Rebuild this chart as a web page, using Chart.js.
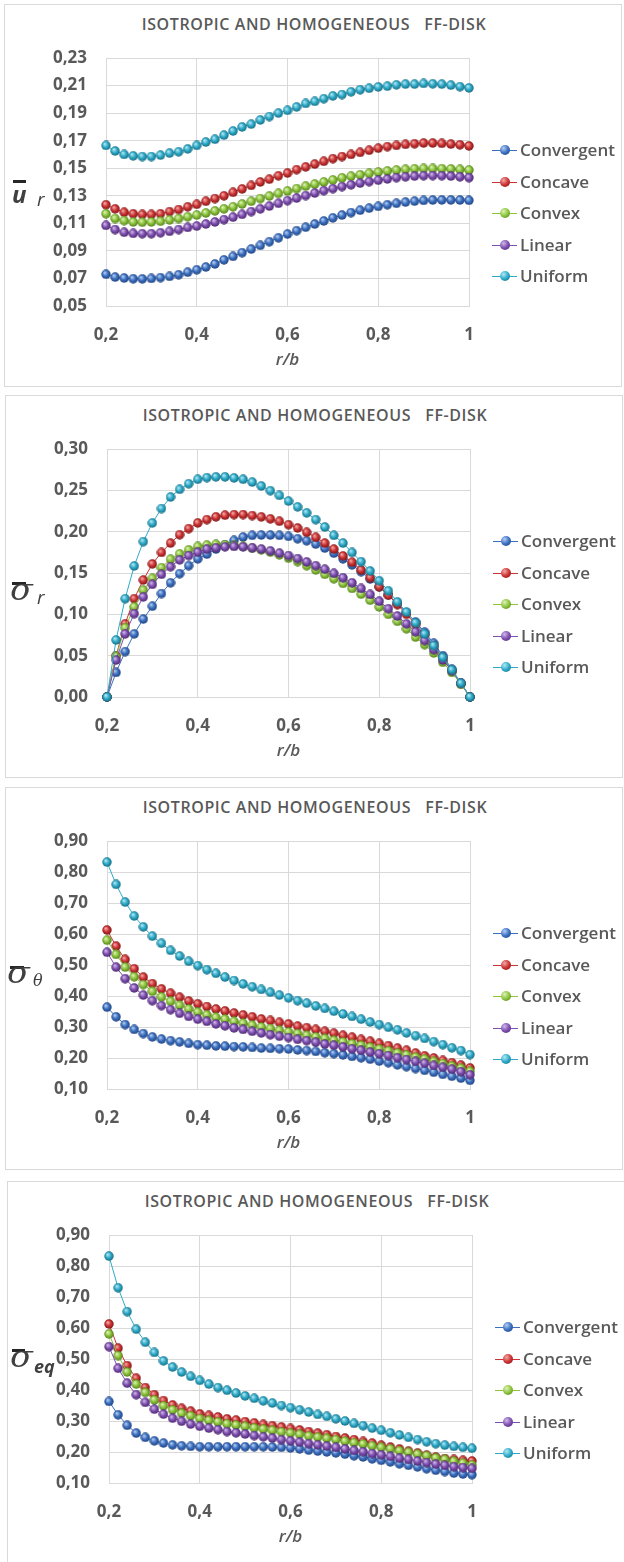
<!DOCTYPE html>
<html>
<head>
<meta charset="utf-8">
<title>Isotropic and homogeneous FF-disk</title>
<script src="https://cdn.jsdelivr.net/npm/chart.js@4.4.1/dist/chart.umd.min.js"></script>
<style>
  body { margin: 0; background: #fff; width: 624px; height: 1562px; overflow: hidden; position: relative; font-family: "Open Sans", sans-serif; }
  .panel { position: absolute; width: 616px; height: 381px; border: 1px solid #d9d9d9; background: #fff; }
  .panel canvas { position: absolute; left: 0; top: 0; }
  .title { position: absolute; left: 0; width: 618px; top: 11px; text-align: center; white-space: pre; font-size: 16px; line-height: 16px; letter-spacing: 0.6px; font-weight: 600; color: #595959; }
  .bar { position: absolute; height: 3px; background: #262626; }
  .glyph { position: absolute; white-space: nowrap; color: #404040; }
  .sigma { font-family: "DejaVu Serif", serif; font-style: italic; font-size: 29px; line-height: 29px; transform: scaleX(1.15); transform-origin: left; }
  .u { font-weight: 700; font-style: italic; font-size: 24px; line-height: 24px; }
  .sub { font-style: italic; font-size: 19px; line-height: 19px; }
  .theta { font-family: "DejaVu Serif", serif; font-style: italic; font-size: 16px; line-height: 16px; }
  .eq { font-weight: 700; font-style: italic; font-size: 18px; line-height: 18px; }
  .lg-line { position: absolute; width: 25px; height: 1px; }
  .lg-dot { position: absolute; width: 10px; height: 10px; border-radius: 50%; }
  .lg-txt { position: absolute; font-size: 17px; line-height: 17px; font-weight: 600; color: #595959; }
</style>
</head>
<body>
<script>
// r/b positions (0.20 ... 1.00, step 0.02)
const radius = [0.20, 0.22, 0.24, 0.26, 0.28, 0.30, 0.32, 0.34, 0.36, 0.38, 0.40, 0.42, 0.44, 0.46, 0.48, 0.50, 0.52, 0.54, 0.56, 0.58, 0.60,
                0.62, 0.64, 0.66, 0.68, 0.70, 0.72, 0.74, 0.76, 0.78, 0.80, 0.82, 0.84, 0.86, 0.88, 0.90, 0.92, 0.94, 0.96, 0.98, 1.00];

const seriesNames = ['Convergent', 'Concave', 'Convex', 'Linear', 'Uniform'];
const seriesColors = ['#3b6fc0', '#cc3333', '#8cc43c', '#7e4fb0', '#2eaac8'];
const seriesLights = ['#b3cdf2', '#f4a8a8', '#ddf2b4', '#d0b8ea', '#b0e8f5'];
const seriesDarks = ['#1d3f7a', '#7a1414', '#4f7a18', '#472468', '#14687e'];

const chartTitle = 'ISOTROPIC AND HOMOGENEOUS   FF-DISK';
const xTitle = 'r/b';
const xAxis = [0.2, 1, 0.2]; // min, max, step

// radial displacement
const urConvergent = [0.0730, 0.0710, 0.0703, 0.0698, 0.0697, 0.0700, 0.0706, 0.0715, 0.0727, 0.0745, 0.0763, 0.0783, 0.0805, 0.0835, 0.0860, 0.0887, 0.0913, 0.0940, 0.0967, 0.0995, 0.1022,
                      0.1047, 0.1072, 0.1095, 0.1117, 0.1140, 0.1160, 0.1178, 0.1195, 0.1210, 0.1223, 0.1235, 0.1245, 0.1254, 0.1261, 0.1266, 0.1269, 0.1270, 0.1270, 0.1269, 0.1267];
const urConcave = [0.1235, 0.1205, 0.1180, 0.1170, 0.1165, 0.1165, 0.1170, 0.1185, 0.1200, 0.1220, 0.1238, 0.1260, 0.1280, 0.1300, 0.1325, 0.1350, 0.1375, 0.1400, 0.1420, 0.1445, 0.1465,
                   0.1490, 0.1510, 0.1530, 0.1550, 0.1570, 0.1585, 0.1600, 0.1615, 0.1630, 0.1645, 0.1657, 0.1665, 0.1673, 0.1678, 0.1683, 0.1683, 0.1680, 0.1675, 0.1670, 0.1662];
const urConvex = [0.1170, 0.1135, 0.1120, 0.1110, 0.1108, 0.1110, 0.1115, 0.1125, 0.1135, 0.1148, 0.1160, 0.1175, 0.1190, 0.1205, 0.1220, 0.1240, 0.1260, 0.1280, 0.1298, 0.1317, 0.1335,
                  0.1352, 0.1370, 0.1385, 0.1400, 0.1415, 0.1430, 0.1442, 0.1453, 0.1463, 0.1472, 0.1480, 0.1487, 0.1492, 0.1496, 0.1498, 0.1498, 0.1497, 0.1495, 0.1491, 0.1487];
const urLinear = [0.1085, 0.1055, 0.1035, 0.1027, 0.1025, 0.1025, 0.1032, 0.1042, 0.1055, 0.1070, 0.1080, 0.1095, 0.1110, 0.1127, 0.1145, 0.1165, 0.1185, 0.1205, 0.1225, 0.1245, 0.1265,
                  0.1283, 0.1302, 0.1320, 0.1337, 0.1352, 0.1367, 0.1380, 0.1392, 0.1403, 0.1413, 0.1422, 0.1432, 0.1438, 0.1443, 0.1446, 0.1447, 0.1446, 0.1443, 0.1438, 0.1432];
const urUniform = [0.1665, 0.1625, 0.1600, 0.1590, 0.1585, 0.1585, 0.1595, 0.1610, 0.1620, 0.1640, 0.1665, 0.1690, 0.1710, 0.1740, 0.1770, 0.1800, 0.1820, 0.1850, 0.1875, 0.1900, 0.1920,
                   0.1945, 0.1970, 0.1985, 0.2005, 0.2025, 0.2035, 0.2055, 0.2070, 0.2080, 0.2090, 0.2095, 0.2105, 0.2110, 0.2110, 0.2115, 0.2113, 0.2110, 0.2103, 0.2092, 0.2083];
const urAxis = [0.05, 0.23, 0.02];

// radial stress
const srConvergent = [0, 0.0297, 0.0549, 0.0764, 0.0943, 0.1098, 0.1252, 0.1382, 0.1492, 0.1589, 0.1671, 0.1728, 0.1789, 0.1841, 0.1894, 0.1935, 0.1955, 0.1959, 0.1959, 0.1955, 0.1943,
                      0.1915, 0.1890, 0.1850, 0.1801, 0.1740, 0.1671, 0.1598, 0.1516, 0.1427, 0.1333, 0.1236, 0.1130, 0.1020, 0.0907, 0.0785, 0.0650, 0.0500, 0.0337, 0.0167, 0];
const srConcave = [0, 0.0500, 0.0886, 0.1190, 0.1415, 0.1610, 0.1748, 0.1862, 0.1963, 0.2037, 0.2106, 0.2146, 0.2179, 0.2199, 0.2207, 0.2207, 0.2195, 0.2179, 0.2155, 0.2126, 0.2085,
                   0.2045, 0.1992, 0.1931, 0.1862, 0.1789, 0.1707, 0.1630, 0.1537, 0.1443, 0.1333, 0.1232, 0.1118, 0.1000, 0.0878, 0.0752, 0.0614, 0.0472, 0.0317, 0.0163, 0];
const srConvex = [0, 0.0490, 0.0837, 0.1090, 0.1293, 0.1435, 0.1565, 0.1667, 0.1732, 0.1780, 0.1821, 0.1837, 0.1846, 0.1841, 0.1833, 0.1821, 0.1800, 0.1780, 0.1752, 0.1719, 0.1679,
                  0.1638, 0.1589, 0.1537, 0.1484, 0.1431, 0.1374, 0.1313, 0.1244, 0.1171, 0.1090, 0.1000, 0.0915, 0.0825, 0.0724, 0.0634, 0.0533, 0.0419, 0.0297, 0.0154, 0];
const srLinear = [0, 0.0447, 0.0764, 0.1008, 0.1211, 0.1362, 0.1484, 0.1577, 0.1659, 0.1711, 0.1752, 0.1789, 0.1805, 0.1817, 0.1821, 0.1817, 0.1805, 0.1789, 0.1768, 0.1740, 0.1711,
                  0.1675, 0.1634, 0.1589, 0.1545, 0.1496, 0.1443, 0.1382, 0.1313, 0.1240, 0.1159, 0.1069, 0.0980, 0.0886, 0.0789, 0.0683, 0.0573, 0.0447, 0.0317, 0.0167, 0];
const srUniform = [0, 0.0690, 0.1190, 0.1585, 0.1880, 0.2106, 0.2280, 0.2419, 0.2512, 0.2580, 0.2634, 0.2654, 0.2663, 0.2663, 0.2650, 0.2634, 0.2600, 0.2553, 0.2496, 0.2439, 0.2370,
                   0.2300, 0.2228, 0.2146, 0.2057, 0.1955, 0.1862, 0.1748, 0.1638, 0.1524, 0.1407, 0.1285, 0.1150, 0.1028, 0.0898, 0.0764, 0.0622, 0.0480, 0.0329, 0.0167, 0];
const srAxis = [0, 0.30, 0.05];

// hoop stress
const stConvergent = [0.364, 0.333, 0.308, 0.292, 0.279, 0.268, 0.261, 0.256, 0.252, 0.247, 0.243, 0.241, 0.239, 0.238, 0.237, 0.236, 0.234, 0.232, 0.231, 0.230, 0.229,
                      0.226, 0.224, 0.221, 0.217, 0.214, 0.210, 0.205, 0.201, 0.196, 0.190, 0.185, 0.178, 0.172, 0.166, 0.160, 0.154, 0.147, 0.141, 0.135, 0.128];
const stConcave = [0.613, 0.561, 0.518, 0.488, 0.461, 0.440, 0.423, 0.409, 0.396, 0.384, 0.375, 0.366, 0.358, 0.352, 0.345, 0.339, 0.333, 0.326, 0.321, 0.315, 0.310,
                   0.303, 0.298, 0.292, 0.286, 0.280, 0.273, 0.267, 0.260, 0.254, 0.247, 0.240, 0.232, 0.225, 0.216, 0.207, 0.200, 0.192, 0.185, 0.177, 0.168];
const stConvex = [0.580, 0.534, 0.493, 0.462, 0.437, 0.415, 0.397, 0.383, 0.370, 0.358, 0.348, 0.339, 0.331, 0.325, 0.318, 0.312, 0.306, 0.300, 0.295, 0.289, 0.284,
                  0.279, 0.273, 0.268, 0.263, 0.257, 0.252, 0.246, 0.241, 0.235, 0.229, 0.223, 0.216, 0.210, 0.203, 0.197, 0.189, 0.182, 0.174, 0.167, 0.157];
const stLinear = [0.541, 0.493, 0.456, 0.426, 0.403, 0.385, 0.369, 0.356, 0.344, 0.334, 0.325, 0.318, 0.310, 0.304, 0.297, 0.292, 0.286, 0.281, 0.275, 0.270, 0.266,
                  0.260, 0.256, 0.251, 0.245, 0.241, 0.236, 0.230, 0.225, 0.219, 0.214, 0.208, 0.201, 0.195, 0.189, 0.183, 0.176, 0.170, 0.164, 0.156, 0.146];
const stUniform = [0.832, 0.760, 0.703, 0.658, 0.623, 0.593, 0.570, 0.547, 0.529, 0.512, 0.498, 0.485, 0.473, 0.461, 0.450, 0.439, 0.430, 0.421, 0.412, 0.403, 0.394,
                   0.385, 0.377, 0.368, 0.360, 0.351, 0.342, 0.334, 0.325, 0.316, 0.308, 0.299, 0.291, 0.281, 0.272, 0.263, 0.253, 0.243, 0.233, 0.224, 0.211];
const stAxis = [0.10, 0.90, 0.10];

// equivalent stress
const seConvergent = [0.363, 0.320, 0.286, 0.261, 0.247, 0.236, 0.229, 0.223, 0.220, 0.218, 0.217, 0.217, 0.217, 0.217, 0.217, 0.217, 0.217, 0.217, 0.216, 0.215, 0.213,
                      0.210, 0.206, 0.203, 0.200, 0.197, 0.193, 0.188, 0.184, 0.178, 0.173, 0.168, 0.162, 0.157, 0.152, 0.146, 0.141, 0.137, 0.132, 0.129, 0.127];
const seConcave = [0.613, 0.535, 0.479, 0.438, 0.408, 0.385, 0.366, 0.352, 0.341, 0.332, 0.323, 0.318, 0.313, 0.307, 0.303, 0.298, 0.294, 0.289, 0.285, 0.281, 0.276,
                   0.271, 0.266, 0.261, 0.256, 0.250, 0.245, 0.240, 0.234, 0.229, 0.222, 0.216, 0.210, 0.203, 0.197, 0.190, 0.184, 0.179, 0.176, 0.173, 0.171];
const seConvex = [0.581, 0.511, 0.458, 0.419, 0.392, 0.368, 0.349, 0.336, 0.325, 0.317, 0.308, 0.302, 0.297, 0.291, 0.287, 0.283, 0.278, 0.274, 0.270, 0.265, 0.261,
                  0.257, 0.252, 0.248, 0.244, 0.240, 0.235, 0.230, 0.226, 0.220, 0.215, 0.210, 0.204, 0.199, 0.193, 0.188, 0.181, 0.176, 0.170, 0.164, 0.158];
const seLinear = [0.540, 0.470, 0.422, 0.385, 0.360, 0.338, 0.322, 0.309, 0.299, 0.290, 0.283, 0.277, 0.272, 0.266, 0.262, 0.258, 0.253, 0.249, 0.245, 0.240, 0.236,
                  0.232, 0.227, 0.223, 0.219, 0.215, 0.210, 0.205, 0.201, 0.195, 0.191, 0.186, 0.180, 0.176, 0.171, 0.166, 0.161, 0.157, 0.153, 0.150, 0.147];
const seUniform = [0.832, 0.730, 0.653, 0.596, 0.554, 0.521, 0.494, 0.474, 0.458, 0.444, 0.431, 0.419, 0.408, 0.399, 0.390, 0.381, 0.373, 0.365, 0.358, 0.350, 0.343,
                   0.336, 0.329, 0.321, 0.315, 0.307, 0.300, 0.292, 0.285, 0.277, 0.270, 0.262, 0.255, 0.247, 0.240, 0.233, 0.227, 0.222, 0.218, 0.215, 0.212];
const seAxis = [0.10, 0.90, 0.10];

// panel placement and the y-axis symbol (glyph boxes: left, top)
const panels = [
    { left: 4, top: 4, axis: urAxis, series: [urConvergent, urConcave, urConvex, urLinear, urUniform],
      bar: [8, 175, 13], sym: ['u', 'u', 7, 177], sub: ['r', 'sub', 32, 185] },
    { left: 5, top: 395, axis: srAxis, series: [srConvergent, srConcave, srConvex, srLinear, srUniform],
      bar: [6, 186, 14], sym: ['σ', 'sigma', 4, 180], sub: ['r', 'sub', 31, 192] },
    { left: 5, top: 787, axis: stAxis, series: [stConvergent, stConcave, stConvex, stLinear, stUniform],
      bar: [4, 178, 14], sym: ['σ', 'sigma', 1, 171], sub: ['θ', 'theta', 27, 185] },
    { left: 7, top: 1181, axis: seAxis, series: [seConvergent, seConcave, seConvex, seLinear, seUniform],
      bar: [4, 167, 13], sym: ['σ', 'sigma', 2, 161], sub: ['eq', 'eq', 26, 175] }
];

// shaded ball used as the point marker
function makeBall(base, light, dark) {
    const c = document.createElement('canvas');
    c.width = 10;
    c.height = 10;
    const g = c.getContext('2d');
    const grad = g.createRadialGradient(3.6, 3.3, 0.4, 5, 5, 5);
    grad.addColorStop(0, light);
    grad.addColorStop(0.5, base);
    grad.addColorStop(1, dark);
    g.fillStyle = grad;
    g.beginPath();
    g.arc(5, 5, 4.7, 0, Math.PI * 2);
    g.fill();
    return c;
}

const balls = seriesColors.map((c, i) => makeBall(c, seriesLights[i], seriesDarks[i]));

function fmtX(v) {
    return v.toFixed(1).replace(/\.0$/, '').replace('.', ',');
}

function fmtY(v) {
    return v.toFixed(2).replace('.', ',');
}

function addEl(parent, cls, text, left, top) {
    const el = document.createElement('div');
    el.className = cls;
    if (text) el.textContent = text;
    el.style.left = left + 'px';
    el.style.top = top + 'px';
    parent.appendChild(el);
    return el;
}

const tickFont = { family: '"Open Sans", sans-serif', size: 17, weight: '700' };

panels.forEach(p => {
    const box = document.createElement('div');
    box.className = 'panel';
    box.style.left = p.left + 'px';
    box.style.top = p.top + 'px';
    document.body.appendChild(box);

    addEl(box, 'title', chartTitle, 0, 11);

    const canvas = document.createElement('canvas');
    canvas.width = 616;
    canvas.height = 381;
    box.appendChild(canvas);

    // y-axis symbol with its overbar
    const bar = addEl(box, 'bar', '', p.bar[0], p.bar[1]);
    bar.style.width = p.bar[2] + 'px';
    addEl(box, 'glyph ' + p.sym[1], p.sym[0], p.sym[2], p.sym[3]);
    addEl(box, 'glyph ' + p.sub[1], p.sub[0], p.sub[2], p.sub[3]);

    // legend: line with a ball, then the name
    seriesNames.forEach((name, i) => {
        const cy = 145 + i * 31.5;
        const ln = addEl(box, 'lg-line', '', 487, Math.round(cy));
        ln.style.background = seriesColors[i];
        const dot = addEl(box, 'lg-dot', '', 495, Math.round(cy) - 5);
        dot.style.background = 'radial-gradient(circle at 36% 33%, ' + seriesLights[i] + ' 0%, ' + seriesColors[i] + ' 50%, ' + seriesDarks[i] + ' 100%)';
        addEl(box, 'lg-txt', name, 515, Math.round(cy) - 9);
    });

    // Excel draws later series on top, so give them lower order
    const datasets = seriesNames.map((name, i) => ({
        label: name,
        data: radius.map((r, k) => ({ x: r, y: p.series[i][k] })),
        borderColor: seriesColors[i],
        borderWidth: 1,
        pointStyle: balls[i],
        pointRadius: 5,
        pointHoverRadius: 5,
        tension: 0,
        fill: false,
        clip: false,
        order: seriesNames.length - i
    }));

    new Chart(canvas.getContext('2d'), {
        type: 'line',
        data: { datasets: datasets },
        options: {
            responsive: false,
            animation: false,
            devicePixelRatio: 1,
            layout: { padding: { left: 0, right: 152, top: 53, bottom: 0 } },
            plugins: { legend: { display: false }, tooltip: { enabled: false } },
            scales: {
                x: {
                    type: 'linear',
                    min: xAxis[0],
                    max: xAxis[1],
                    ticks: { stepSize: xAxis[2], padding: 19, color: '#595959', font: tickFont, callback: v => fmtX(v) },
                    grid: { color: '#d9d9d9', drawTicks: false },
                    border: { color: '#d9d9d9' },
                    title: { display: true, text: xTitle, color: '#595959', font: { family: '"Open Sans", sans-serif', size: 17, weight: '600', style: 'italic' }, padding: { top: 4, bottom: 16 } },
                    afterFit: s => { s.height = 80; }
                },
                y: {
                    min: p.axis[0],
                    max: p.axis[1],
                    ticks: { stepSize: p.axis[2], padding: 19, color: '#595959', font: tickFont, callback: v => fmtY(v) },
                    grid: { color: '#d9d9d9', drawTicks: false },
                    border: { color: '#d9d9d9' },
                    afterFit: s => { s.width = 101; }
                }
            }
        }
    });
});
</script>
</body>
</html>
